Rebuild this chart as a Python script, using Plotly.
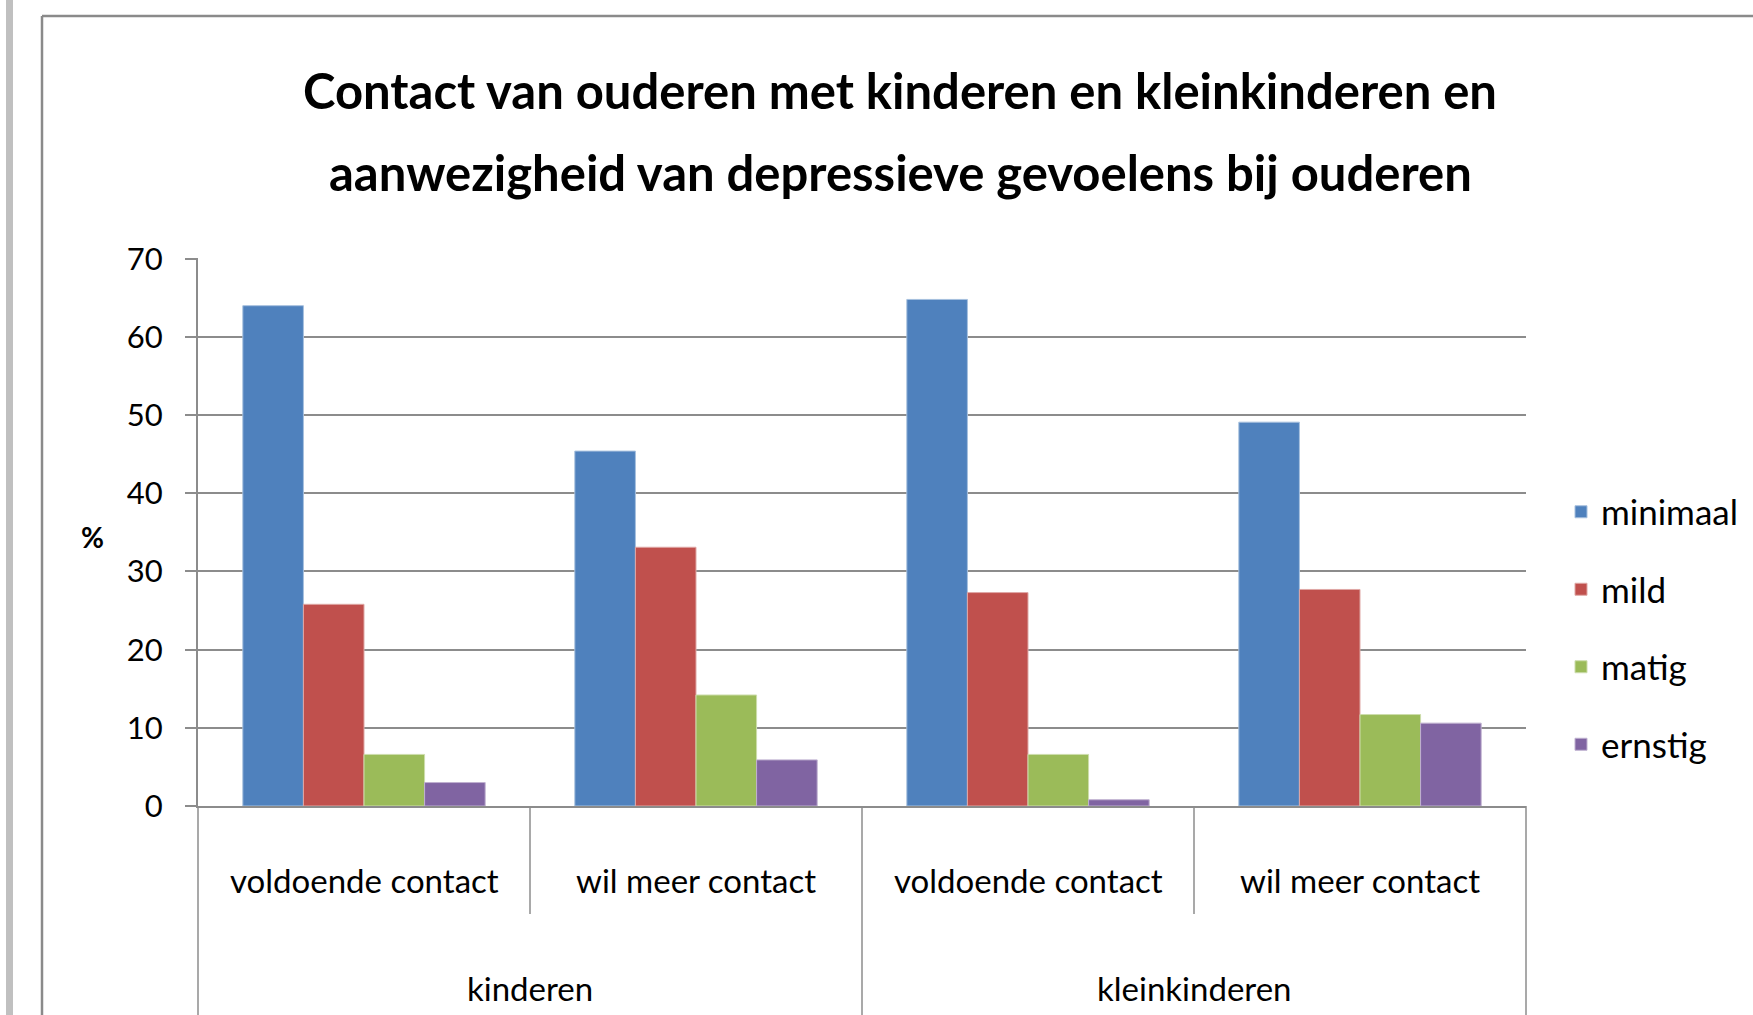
import plotly.graph_objects as go

# ---- data ----
outer_groups = ["kinderen", "kinderen", "kleinkinderen", "kleinkinderen"]
inner_groups = ["voldoende contact", "wil meer contact", "voldoende contact", "wil meer contact"]
outer_labels = ["kinderen", "kleinkinderen"]
series_names = ["minimaal", "mild", "matig", "ernstig"]
minimaal = [64.0, 45.4, 64.8, 49.1]
mild = [25.8, 33.1, 27.3, 27.7]
matig = [6.6, 14.2, 6.6, 11.7]
ernstig = [3.0, 5.9, 0.8, 10.6]
y_ticks = [0, 10, 20, 30, 40, 50, 60, 70]
title_lines = ["Contact van ouderen met kinderen en kleinkinderen en",
               "aanwezigheid van depressieve gevoelens bij ouderen"]
y_label = "%"

colors = ["#4F81BD", "#C0504D", "#9BBB59", "#8064A2"]
edge_colors = ["#A7C0DE", "#DFA8A6", "#CDDDAC", "#BFB1D0"]

FONT = "Lato, Carlito, Calibri, sans-serif"

W, H = 1753, 1015
L, R, T, B = 198, 227, 258, 209
PW, PH = W - L - R, H - T - B


def px2x(px):
    return (px - L) / PW


def px2y(py):
    return (H - B - py) / PH


fig = go.Figure()
for name, vals, c, ec in zip(series_names, [minimaal, mild, matig, ernstig], colors, edge_colors):
    fig.add_trace(go.Bar(
        name=name,
        x=[outer_groups, inner_groups],
        y=vals,
        marker=dict(color=c, line=dict(color=ec, width=1)),
        legendgroup=name,
    ))

shapes = []
n_inner = len(inner_groups)
n_outer = len(outer_labels)
# category separators below the axis
for i in range(n_inner + 1):
    frac = i / n_inner
    is_outer = (i * n_outer) % n_inner == 0
    ybot = px2y(1030) if is_outer else px2y(914)
    shapes.append(dict(type="line", xref="x domain", yref="y domain", x0=frac, x1=frac, y0=0, y1=ybot,
                       line=dict(color="#8C8C8C", width=1.5)))
# outer page bar and chart border
shapes.append(dict(type="rect", xref="paper", yref="paper", x0=px2x(6), x1=px2x(13), y0=px2y(1030), y1=px2y(-10),
                   fillcolor="#C0C0C0", line=dict(width=0), layer="below"))
shapes.append(dict(type="line", xref="paper", yref="paper", x0=px2x(42), x1=px2x(42), y0=px2y(16), y1=px2y(1030),
                   line=dict(color="#8A8A8A", width=2.5)))
shapes.append(dict(type="line", xref="paper", yref="paper", x0=px2x(42), x1=px2x(1760), y0=px2y(16), y1=px2y(16),
                   line=dict(color="#8A8A8A", width=2.5)))

annotations = []
for i, lab in enumerate(inner_groups):
    annotations.append(dict(text=lab, xref="x domain", yref="paper", x=(i + 0.5) / n_inner, y=px2y(880),
                            xanchor="center", yanchor="middle", showarrow=False,
                            font=dict(size=33, family=FONT)))
for g, lab in enumerate(outer_labels):
    annotations.append(dict(text=lab, xref="x domain", yref="paper", x=(g + 0.5) / n_outer, y=px2y(988),
                            xanchor="center", yanchor="middle", showarrow=False,
                            font=dict(size=33, family=FONT)))
annotations.append(dict(text="<b>" + y_label + "</b>", xref="paper", yref="paper",
                        x=px2x(92), y=px2y(537), xanchor="center", yanchor="middle", showarrow=False,
                        font=dict(size=28, family=FONT)))
# second title line
annotations.append(dict(text="<b>" + title_lines[1] + "</b>", xref="paper", yref="paper",
                        x=px2x(900), y=px2y(172), xanchor="center", yanchor="middle", showarrow=False,
                        font=dict(size=49, family=FONT)))

fig.update_layout(
    width=W, height=H,
    margin=dict(l=L, r=R, t=T, b=B),
    paper_bgcolor="white", plot_bgcolor="white",
    barmode="group", bargap=0.27, bargroupgap=0,
    font=dict(family=FONT, color="black"),
    title=dict(
        text="<b>" + title_lines[0] + "</b>",
        xref="container", yref="container",
        x=900 / W, xanchor="center", y=1 - 92 / H, yanchor="middle",
        font=dict(family=FONT, size=49, color="black"),
    ),
    xaxis=dict(
        type="multicategory",
        showline=True, linecolor="#8C8C8C", linewidth=2,
        showdividers=False, ticks="", showticklabels=False,
        showgrid=False,
    ),
    yaxis=dict(
        range=[0, 70.1], tickvals=y_ticks,
        showgrid=True, gridcolor="#8C8C8C", gridwidth=2,
        showline=True, linecolor="#8C8C8C", linewidth=2,
        ticks="outside", ticklen=11, tickcolor="#8C8C8C", tickwidth=2,
        tickfont=dict(size=31, family=FONT),
        ticklabelstandoff=16,
        zeroline=False,
    ),
    legend=dict(
        xref="container", yref="container",
        x=1561 / W, xanchor="left", y=1 - 628 / H, yanchor="middle",
        font=dict(size=35, family=FONT),
        traceorder="grouped", tracegroupgap=29,
        bgcolor="rgba(0,0,0,0)",
    ),
    shapes=shapes,
    annotations=annotations,
)

fig.write_html("out.html", config={"displayModeBar": False},
               post_script="document.body.style.margin='0';document.body.style.overflow='hidden';")
